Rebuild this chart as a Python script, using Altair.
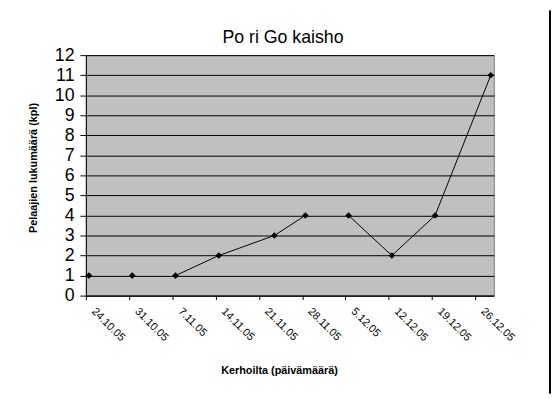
import altair as alt
import pandas as pd

dates = ["2005-10-24", "2005-10-31", "2005-11-07", "2005-11-14", "2005-11-23",
         "2005-11-28", "2005-12-05", "2005-12-12", "2005-12-19", "2005-12-28"]
players = [1, 1, 1, 2, 3, 4, 4, 2, 4, 11]
segment = [1, 2, 3, 3, 3, 3, 4, 4, 4, 4]
tick_dates = ["2005-10-24", "2005-10-31", "2005-11-07", "2005-11-14", "2005-11-21",
              "2005-11-28", "2005-12-05", "2005-12-12", "2005-12-19", "2005-12-26"]
title_text = "Po ri Go kaisho"

df = pd.DataFrame({
    "date": [d + "T12:00:00Z" for d in dates],
    "players": players,
    "seg": segment,
})

def dt(s):
    y, m, d = (int(v) for v in s.split("-"))
    return alt.DateTime(year=y, month=m, date=d, utc=True)

FONT = "Liberation Sans"

x = alt.X(
    "date:T",
    scale=alt.Scale(type="utc", domain=[dt("2005-10-24"), dt("2005-12-29")]),
    axis=alt.Axis(
        values=[dt(s) for s in tick_dates],
        labelExpr="utcFormat(datum.value, '%-d.%-m.%y')",
        labelAngle=45, labelAlign="left", labelBaseline="middle",
        labelPadding=10, labelOffset=7, labelFontSize=11, labelFont=FONT,
        labelColor="black", labelOverlap=False, labelBound=False, labelFlush=False,
        tickSize=4, tickColor="black", domainColor="black", grid=False,
        title="Kerhoilta (päivämäärä)", titleFont=FONT, titleFontSize=11,
        titleFontWeight="bold", titleColor="black", titlePadding=22, titleX=196,
    ),
)
y = alt.Y(
    "players:Q",
    scale=alt.Scale(domain=[0, 12], nice=False),
    axis=alt.Axis(
        values=list(range(0, 13)), labelFontSize=18, labelFont=FONT,
        labelOverlap=False, labelFlush=False,
        labelColor="black", labelPadding=6, tickSize=6, tickColor="black",
        domainColor="black", gridColor="black", gridOpacity=1, gridWidth=1,
        title="Pelaajien lukumäärä (kpl)", titleFont=FONT, titleFontSize=11,
        titleFontWeight="bold", titleColor="black", titlePadding=16, titleY=114,
    ),
)

base = alt.Chart(df)
line = base.mark_line(color="black", strokeWidth=1).encode(x=x, y=y, detail="seg:N")
pts = base.mark_point(shape="diamond", filled=True, color="black", size=45, opacity=1).encode(x=x, y=y)
border = base.mark_rule(color="black", strokeWidth=1).encode(
    x=alt.value(471), y=alt.value(-45), y2=alt.value(343)
)
title = alt.Chart(pd.DataFrame({"t": [title_text]})).mark_text(
    font=FONT, fontSize=18, color="black", align="center", baseline="alphabetic"
).encode(text="t:N", x=alt.value(200), y=alt.value(-12))

chart = (line + pts + border + title).properties(
    width=414, height=244,
    autosize=alt.AutoSizeParams(type="none"),
    padding={"left": 79, "top": 45, "right": 58, "bottom": 99},
    background="white",
).configure_view(fill="#C0C0C0", stroke="#808080", strokeWidth=1)

chart.save("out.html", embed_options={"renderer": "svg", "actions": False})
